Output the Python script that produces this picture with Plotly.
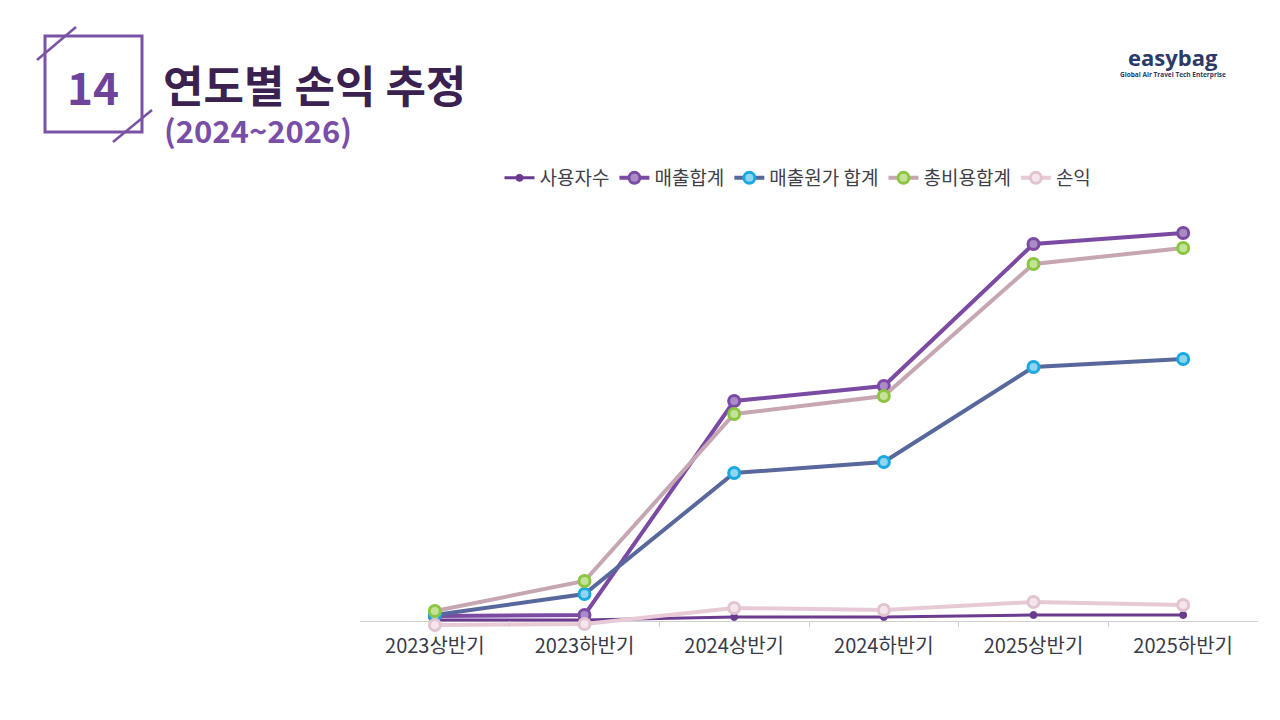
import plotly.graph_objects as go

categories = ["2023상반기", "2023하반기", "2024상반기", "2024하반기", "2025상반기", "2025하반기"]
users = [1, 1, 4, 4, 6, 6]
revenue = [5, 6, 220, 235, 377, 388]
cogs = [6, 27, 148, 159, 254, 262]
total_cost = [10, 40, 207, 225, 357, 373]
profit = [-4, -3, 13, 11, 19, 16]

# page has an 8px body margin, so the figure is slightly smaller
OFF = 8
W, H = 1280 - OFF, 720 - OFF
PL, PR, PT, PB = 360, 1258, 200, 627   # plot area in page pixels
L, R, T, B = PL - OFF, W - (PR - OFF), PT - OFF, H - (PB - OFF)
PW, PH = PR - PL, PB - PT

def px(x):
    return (x - PL) / PW

def py(y):
    return (PB - y) / PH

FONT = "Noto Sans CJK KR"

fig = go.Figure()

def add(name, vals, line_color, marker_color, center, width, size, mline):
    fig.add_trace(go.Scatter(
        x=categories, y=vals, name=name, mode="lines+markers",
        line=dict(color=line_color, width=width),
        marker=dict(color=center, size=size, symbol="circle",
                    line=dict(color=marker_color, width=mline)),
        cliponaxis=False,
    ))

add("사용자수", users, "#6A3B8E", "#6A3B8E", "#6A3B8E", 3, 7, 1)
add("매출합계", revenue, "#7B4AA3", "#7B4AA3", "#A98BC6", 4, 11, 3)
add("매출원가 합계", cogs, "#58689C", "#1AA8E0", "#8FD4F0", 4, 11, 3)
add("총비용합계", total_cost, "#C6A6B2", "#8CC540", "#C3E39A", 4, 11, 3)
add("손익", profit, "#E7CAD5", "#E2C4D0", "#F4E6EC", 4, 11, 3)

shapes = [
    dict(type="rect", xref="paper", yref="paper", x0=px(45), x1=px(142), y0=py(36), y1=py(132),
         line=dict(color="#7A52A5", width=3), fillcolor="rgba(0,0,0,0)", layer="above"),
    dict(type="line", xref="paper", yref="paper", x0=px(37), y0=py(60), x1=px(76), y1=py(27),
         line=dict(color="#7A52A5", width=2.5)),
    dict(type="line", xref="paper", yref="paper", x0=px(113), y0=py(142), x1=px(152), y1=py(110),
         line=dict(color="#7A52A5", width=2.5)),
]

annotations = [
    dict(text="<b>14</b>", x=px(93), y=py(86), xref="paper", yref="paper", showarrow=False,
         font=dict(family=FONT, size=44, color="#6E439A"), xanchor="center", yanchor="middle"),
    dict(text="<b>연도별 손익 추정</b>", x=px(161), y=py(84), xref="paper", yref="paper", showarrow=False,
         font=dict(family=FONT, size=44, color="#3B2150"), xanchor="left", yanchor="middle"),
    dict(text="<b>(2024~2026)</b>", x=px(162), y=py(129), xref="paper", yref="paper", showarrow=False,
         font=dict(family=FONT, size=31, color="#7A4DA6"), xanchor="left", yanchor="middle"),
    dict(text="<b>easybag</b>", x=px(1173), y=py(57), xref="paper", yref="paper", showarrow=False,
         font=dict(family="Open Sans", size=22, color="#2C3A68"), xanchor="center", yanchor="middle"),
    dict(text="<b>Global Air Travel Tech Enterprise</b>", x=px(1173), y=py(75), xref="paper", yref="paper",
         showarrow=False, font=dict(family="Open Sans", size=6.5, color="#2C3A68"),
         xanchor="center", yanchor="middle"),
]

fig.update_layout(
    width=W, height=H,
    margin=dict(l=L, r=R, t=T, b=B, pad=0),
    paper_bgcolor="white", plot_bgcolor="white",
    font=dict(family=FONT, color="#3A3A48"),
    showlegend=True,
    legend=dict(orientation="h", x=px(798), xanchor="center", y=py(178), yanchor="middle",
                font=dict(family=FONT, size=19, color="#404048"), itemwidth=30,
                tracegroupgap=0, bgcolor="rgba(0,0,0,0)"),
    xaxis=dict(type="category", showgrid=False, showline=False, zeroline=False,
               ticks="inside", ticklen=6, tickcolor="#CFCFCF", tickwidth=1,
               tickson="boundaries", tickfont=dict(family=FONT, size=20, color="#3A3A48"),
               ticklabelstandoff=5, range=[-0.5, 5.5]),
    yaxis=dict(range=[-6, PH - 6], showgrid=False, showticklabels=False, showline=False,
               zeroline=True, zerolinecolor="#D0D0D0", zerolinewidth=1, ticks=""),
    shapes=shapes,
    annotations=annotations,
)

fig.write_html("out.html")
